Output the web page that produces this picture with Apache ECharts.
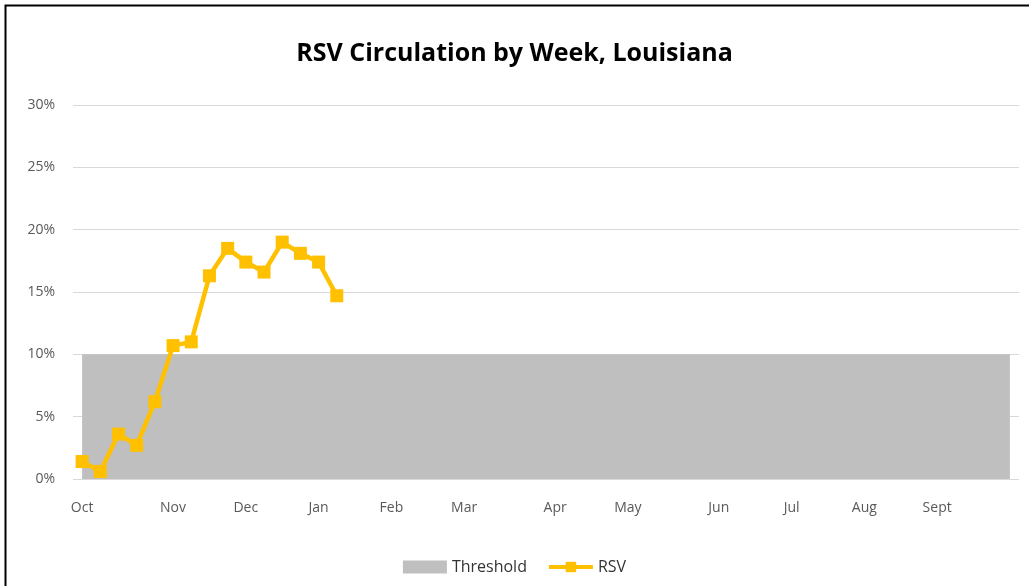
<!DOCTYPE html>
<html>
<head>
<meta charset="utf-8">
<script src="https://cdn.jsdelivr.net/npm/echarts@6/dist/echarts.min.js"></script>
<style>
  html, body { margin: 0; padding: 0; background: #fff; }
  #chart { width: 1029px; height: 586px; }
</style>
</head>
<body>
<div id="chart"></div>
<script>
// 52 weeks of the season, Oct .. Sept
var weekCount = 52;
var monthStarts = [0, 5, 9, 13, 17, 21, 26, 30, 35, 39, 43, 47];
var monthNames = ['Oct', 'Nov', 'Dec', 'Jan', 'Feb', 'Mar', 'Apr', 'May', 'Jun', 'Jul', 'Aug', 'Sept'];
var rsvValues = [1.4, 0.6, 3.6, 2.7, 6.2, 10.7, 11.0, 16.3, 18.5, 17.4, 16.6, 19.0, 18.1, 17.4, 14.7];
var thresholdValue = 10;
var yTicks = [0, 5, 10, 15, 20, 25, 30];

var weeks = [];
var thresholdValues = [];
for (var i = 0; i < weekCount; i++) {
    var k = monthStarts.indexOf(i);
    weeks.push(k >= 0 ? monthNames[k] : '');
    thresholdValues.push(thresholdValue);
}

var chart = echarts.init(document.getElementById('chart'));
chart.setOption({
    animation: false,
    textStyle: { fontFamily: 'Open Sans' },
    title: {
        text: 'RSV Circulation by Week, Louisiana',
        left: 'center',
        top: 36,
        textStyle: { fontSize: 25, fontWeight: 'bold', color: '#000', fontFamily: 'Open Sans' }
    },
    graphic: [{
        type: 'rect',
        shape: { x: 5.5, y: 5.5, width: 1040, height: 600 },
        style: { fill: 'none', stroke: '#000', lineWidth: 2 },
        silent: true
    }],
    legend: {
        bottom: 6,
        left: 'center',
        itemGap: 20,
        itemWidth: 44,
        itemHeight: 13,
        textStyle: { fontSize: 16, color: '#333' },
        data: [
            { name: 'Threshold', icon: 'rect' },
            { name: 'RSV', lineStyle: { width: 4 } }
        ]
    },
    grid: { left: 73, right: 10, top: 105, bottom: 107, containLabel: false },
    xAxis: {
        type: 'category',
        data: weeks,
        boundaryGap: true,
        axisLine: { show: false },
        axisTick: { show: false },
        axisLabel: { interval: 0, color: '#595959', fontSize: 14, margin: 22 }
    },
    yAxis: {
        type: 'value',
        min: yTicks[0],
        max: yTicks[yTicks.length - 1],
        interval: 5,
        axisLine: { show: false },
        axisTick: { show: false },
        axisLabel: { formatter: '{value}%', color: '#595959', fontSize: 14, margin: 18 },
        splitLine: { lineStyle: { color: '#d9d9d9', width: 1 } }
    },
    series: [
        {
            name: 'Threshold',
            type: 'line',
            data: thresholdValues,
            symbol: 'none',
            lineStyle: { width: 0 },
            itemStyle: { color: '#bfbfbf' },
            areaStyle: { color: '#bfbfbf', opacity: 1 }
        },
        {
            name: 'RSV',
            type: 'line',
            data: rsvValues,
            symbol: 'rect',
            symbolSize: 13,
            lineStyle: { color: '#ffc000', width: 4.5 },
            itemStyle: { color: '#ffc000' }
        }
    ]
});
</script>
</body>
</html>
